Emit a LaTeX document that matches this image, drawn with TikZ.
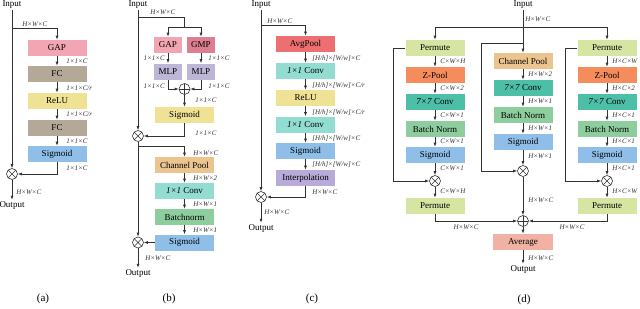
\documentclass[tikz,border=0pt]{standalone}
\usepackage{fontspec}
\setmainfont{Liberation Serif}
\usetikzlibrary{arrows.meta}
\definecolor{LineClr}{rgb}{0.2,0.2,0.2}
\definecolor{GapClr}{rgb}{0.949,0.651,0.702}
\definecolor{GmpClr}{rgb}{0.867,0.494,0.569}
\definecolor{FcClr}{rgb}{0.706,0.663,0.6}
\definecolor{ReluClr}{rgb}{0.937,0.886,0.584}
\definecolor{SigClr}{rgb}{0.561,0.749,0.91}
\definecolor{MlpClr}{rgb}{0.745,0.714,0.839}
\definecolor{PoolClr}{rgb}{0.925,0.769,0.561}
\definecolor{ConvClr}{rgb}{0.576,0.863,0.824}
\definecolor{BnClr}{rgb}{0.557,0.804,0.616}
\definecolor{AvgPoolClr}{rgb}{0.933,0.435,0.447}
\definecolor{InterpClr}{rgb}{0.722,0.667,0.851}
\definecolor{PermClr}{rgb}{0.839,0.902,0.635}
\definecolor{ZPoolClr}{rgb}{0.961,0.549,0.357}
\definecolor{SevenClr}{rgb}{0.306,0.749,0.655}
\definecolor{AverClr}{rgb}{0.949,0.698,0.639}

\begin{document}
\begin{tikzpicture}[x=1pt,y=-1pt,line width=.6pt,color=LineClr,
  blk/.style={minimum width=59,minimum height=16,inner sep=0,text=black,font=\fontsize{9}{10}\selectfont},
  io/.style={inner sep=1pt,text=black,font=\fontsize{9}{10}\selectfont},
  dim/.style={anchor=west,inner sep=1pt,text=black!80,font=\fontsize{7}{8}\selectfont\itshape},
  captxt/.style={inner sep=1pt,text=black,font=\fontsize{11}{12}\selectfont},
  arr/.style={-{Latex[length=4pt,width=3pt]}},
  mul/.style={circle,draw,fill=white,minimum size=11,inner sep=0,
    path picture={\draw[line width=.5pt] (path picture bounding box.south west) -- (path picture bounding box.north east)
      (path picture bounding box.north west) -- (path picture bounding box.south east);}},
  add/.style={circle,draw,fill=white,minimum size=11,inner sep=0,
    path picture={\draw[line width=.5pt] (path picture bounding box.north) -- (path picture bounding box.south)
      (path picture bounding box.west) -- (path picture bounding box.east);}}]
\useasboundingbox (0,0) rectangle (640,308);

% (a)
\node[io] (in_a) at (12,5) {Input};
\coordinate (br_a) at (12,28);
\node[blk,fill=GapClr] (gap_a) at (57,48) {GAP};
\node[blk,fill=FcClr] (fc1_a) at (57,74) {FC};
\node[blk,fill=ReluClr] (relu_a) at (57,101) {ReLU};
\node[blk,fill=FcClr] (fc2_a) at (57,128) {FC};
\node[blk,fill=SigClr] (sig_a) at (57,154) {Sigmoid};
\node[mul] (mul_a) at (12,174) {};
\node[io] (out_a) at (12,205) {Output};

\draw[arr] (in_a) -- (mul_a);
\draw[arr] (br_a) -| (gap_a.north);
\foreach \a/\b in {gap_a/fc1_a,fc1_a/relu_a,relu_a/fc2_a,fc2_a/sig_a}
  \draw[arr] (\a) -- (\b);
\draw[arr] (sig_a.south) |- (mul_a.east);
\draw[arr] (mul_a) -- (out_a);

\node[dim] (l0_a) at (21,24) {H×W×C};
\node[dim] (l1_a) at (65,61) {1×1×C};
\node[dim] (l2_a) at (65,88) {1×1×C/r};
\node[dim] (l3_a) at (65,114) {1×1×C/r};
\node[dim] (l4_a) at (65,141) {1×1×C};
\node[dim] (l5_a) at (65,168) {1×1×C};
\node[dim] (l6_a) at (15,192) {H×W×C};
\node[captxt] (cap_a) at (43,299) {(a)};

% (b)
\node[io] (in_b) at (138,5) {Input};
\coordinate (br1_b) at (138,17);
\coordinate (sp_b) at (184.5,27);
\node[blk,minimum width=28,fill=GapClr] (gap_b) at (168,45) {GAP};
\node[blk,minimum width=28,fill=GmpClr] (gmp_b) at (201,45) {GMP};
\node[blk,minimum width=28,fill=MlpClr] (mlp1_b) at (168,71.5) {MLP};
\node[blk,minimum width=28,fill=MlpClr] (mlp2_b) at (201,71.5) {MLP};
\node[add] (add_b) at (184.5,89) {};
\node[blk,fill=ReluClr] (sig1_b) at (184.5,115) {Sigmoid};
\node[mul] (mul1_b) at (138,136) {};
\coordinate (br2_b) at (138,146);
\node[blk,fill=PoolClr] (cp_b) at (184.5,165) {Channel Pool};
\node[blk,fill=ConvClr] (conv_b) at (184.5,191) {\textit{1×1} Conv};
\node[blk,fill=BnClr] (bn_b) at (184.5,217) {Batchnorm};
\node[blk,fill=SigClr] (sig2_b) at (184.5,242.5) {Sigmoid};
\node[mul] (mul2_b) at (138,242.5) {};
\node[io] (out_b) at (138,273) {Output};

\draw[arr] (in_b) -- (mul1_b);
\draw (br1_b) -| (sp_b);
\draw[arr] (sp_b) -| (gap_b.north);
\draw[arr] (sp_b) -| (gmp_b.north);
\draw[arr] (gap_b) -- (mlp1_b);
\draw[arr] (gmp_b) -- (mlp2_b);
\draw[arr] (mlp1_b.south) |- (add_b.west);
\draw[arr] (mlp2_b.south) |- (add_b.east);
\draw[arr] (add_b) -- (sig1_b);
\draw[arr] (sig1_b.south) |- (mul1_b.east);
\draw[arr] (mul1_b) -- (mul2_b);
\draw[arr] (br2_b) -| (cp_b.north);
\foreach \a/\b in {cp_b/conv_b,conv_b/bn_b,bn_b/sig2_b}
  \draw[arr] (\a) -- (\b);
\draw[arr] (sig2_b) -- (mul2_b);
\draw[arr] (mul2_b) -- (out_b);

\node[dim] (l0_b) at (149,12) {H×W×C};
\node[dim,anchor=east] (l1_b) at (166,58) {1×1×C};
\node[dim] (l2_b) at (207,58) {1×1×C};
\node[dim,anchor=east] (l3_b) at (166,86) {1×1×C};
\node[dim] (l4_b) at (207,86) {1×1×C};
\node[dim] (l5_b) at (194,100) {1×1×C};
\node[dim] (l6_b) at (194,133) {1×1×C};
\node[dim] (l7_b) at (192,153) {H×W×C};
\node[dim] (l8_b) at (192,178) {H×W×2};
\node[dim] (l9_b) at (192,204) {H×W×1};
\node[dim] (l10_b) at (192,230) {H×W×1};
\node[dim] (l11_b) at (144,258) {H×W×C};
\node[captxt] (cap_b) at (169,299) {(b)};

% (c)
\node[io] (in_c) at (261,5) {Input};
\coordinate (br_c) at (261,25);
\node[blk,fill=AvgPoolClr] (ap_c) at (305.5,44) {AvgPool};
\node[blk,fill=ConvClr] (conv1_c) at (305.5,71) {\textit{1×1} Conv};
\node[blk,fill=ReluClr] (relu_c) at (305.5,98) {ReLU};
\node[blk,fill=ConvClr] (conv2_c) at (305.5,124.5) {\textit{1×1} Conv};
\node[blk,fill=SigClr] (sig_c) at (305.5,151) {Sigmoid};
\node[blk,fill=InterpClr] (int_c) at (305.5,178) {Interpolation};
\node[mul] (mul_c) at (261,197) {};
\node[io] (out_c) at (261,228) {Output};

\draw[arr] (in_c) -- (mul_c);
\draw[arr] (br_c) -| (ap_c.north);
\foreach \a/\b in {ap_c/conv1_c,conv1_c/relu_c,relu_c/conv2_c,conv2_c/sig_c,sig_c/int_c}
  \draw[arr] (\a) -- (\b);
\draw[arr] (int_c.south) |- (mul_c.east);
\draw[arr] (mul_c) -- (out_c);

\node[dim] (l0_c) at (266,21) {H×W×C};
\node[dim] (l1_c) at (311,59) {[H/h]×[W/w]×C};
\node[dim] (l2_c) at (311,86) {[H/h]×[W/w]×C/r};
\node[dim] (l3_c) at (311,113) {[H/h]×[W/w]×C/r};
\node[dim] (l4_c) at (311,139) {[H/h]×[W/w]×C};
\node[dim] (l5_c) at (311,165) {[H/h]×[W/w]×C};
\node[dim] (l6_c) at (311,192) {H×W×C};
\node[dim] (l7_c) at (263,212) {H×W×C};
\node[captxt] (cap_c) at (312,299) {(c)};

% (d)
\node[io] (in_d) at (523,5) {Input};
\coordinate (br1_d) at (523,27);
\coordinate (br2_d) at (523,43);
\coordinate (sl_d) at (393,48);
\coordinate (sm_d) at (481,43);
\coordinate (sr_d) at (565,48);
\foreach \c/\x/\p in {l/435/C×W,r/607/H×C}{
  \node[blk,fill=PermClr] (perm1_\c) at (\x,48) {Permute};
  \node[blk,fill=ZPoolClr] (zp_\c) at (\x,75) {Z-Pool};
  \node[blk,fill=SevenClr] (conv_\c) at (\x,102) {\textit{7×7} Conv};
  \node[blk,fill=BnClr] (bn_\c) at (\x,129) {Batch Norm};
  \node[blk,fill=SigClr] (sig_\c) at (\x,155) {Sigmoid};
  \node[mul] (mul_\c) at (\x,181) {};
  \node[blk,fill=PermClr] (perm2_\c) at (\x,206) {Permute};
  \node[dim] (l2_\c) at (\x+4,88) {\p×2};
  \node[dim] (l3_\c) at (\x+4,115) {\p×1};
  \node[dim] (l4_\c) at (\x+4,141) {\p×1};
  \node[dim] (l5_\c) at (\x+4,168) {\p×1};
  \foreach \a/\b in {perm1_\c/zp_\c,zp_\c/conv_\c,conv_\c/bn_\c,bn_\c/sig_\c,sig_\c/mul_\c,mul_\c/perm2_\c}
    \draw[arr] (\a) -- (\b);
}
\node[blk,fill=PoolClr] (cp_m) at (523,61) {Channel Pool};
\node[blk,fill=SevenClr] (conv_m) at (523,88) {\textit{7×7} Conv};
\node[blk,fill=BnClr] (bn_m) at (523,115) {Batch Norm};
\node[blk,fill=SigClr] (sig_m) at (523,142) {Sigmoid};
\node[mul] (mul_m) at (523,171) {};
\node[add] (add_d) at (523,221) {};
\node[blk,minimum width=60,fill=AverClr] (avg_d) at (523,242) {Average};
\node[io] (out_d) at (523,269) {Output};

\draw[arr] (in_d) -- (cp_m);
\draw[arr] (br1_d) -| (perm1_l.north);
\draw[arr] (br1_d) -| (perm1_r.north);
\draw[arr] (perm1_l.west) -- (sl_d) |- (mul_l.west);
\draw[arr] (br2_d) -- (sm_d) |- (mul_m.west);
\draw[arr] (perm1_r.west) -- (sr_d) |- (mul_r.west);
\foreach \a/\b in {cp_m/conv_m,conv_m/bn_m,bn_m/sig_m,sig_m/mul_m,mul_m/add_d,add_d/avg_d,avg_d/out_d}
  \draw[arr] (\a) -- (\b);
\draw[arr] (perm2_l.south) |- (add_d.west);
\draw[arr] (perm2_r.south) |- (add_d.east);

\node[dim] (l1_l) at (439,61) {C×W×H};
\node[dim] (l6_l) at (439,191) {C×W×H};
\node[dim] (l1_r) at (611,61) {H×C×W};
\node[dim] (l6_r) at (611,191) {H×C×W};
\node[dim] (l0_m) at (524,19) {H×W×C};
\node[dim] (l1_m) at (527,74) {H×W×2};
\node[dim] (l2_m) at (527,101) {H×W×1};
\node[dim] (l3_m) at (527,128) {H×W×1};
\node[dim] (l4_m) at (527,156) {H×W×1};
\node[dim] (l5_m) at (527,200) {H×W×C};
\node[dim,anchor=center] (l7_l) at (466,227) {H×W×C};
\node[dim,anchor=center] (l7_r) at (572,227) {H×W×C};
\node[dim] (l8_m) at (527,258) {H×W×C};
\node[captxt] (cap_d) at (524,300) {(d)};
\end{tikzpicture}
\end{document}
